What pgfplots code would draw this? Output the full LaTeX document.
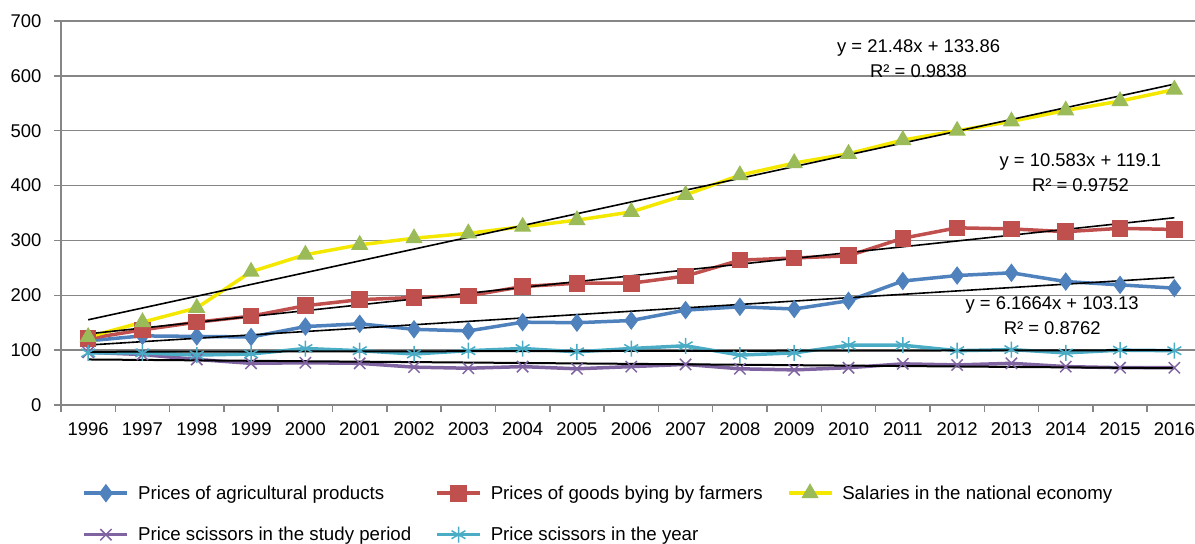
\documentclass[border=0pt]{standalone}
\usepackage{fontspec}
\setmainfont{Liberation Sans}
\usepackage{pgfplots}
\usepackage{pgfplotstable}
\pgfplotsset{compat=1.18}

\definecolor{cblue}{RGB}{79,129,189}
\definecolor{cred}{RGB}{192,80,77}
\definecolor{cyellow}{RGB}{245,232,0}
\definecolor{cgreen}{RGB}{155,187,89}
\definecolor{cpurple}{RGB}{128,100,162}
\definecolor{ccyan}{RGB}{75,172,198}
\definecolor{cgrid}{RGB}{134,134,134}

\pgfplotstableread{
i agr goods sal sp sy
0 117 121 124 96 95
1 126 137 151 92 95
2 125 151 177 83 91
3 124 162 243 76 93
4 143 181 274 77 103
5 148 192 292 76 99
6 138 196 304 69 93
7 135 199 313 67 99
8 151 216 325 70 103
9 150 222 337 66 97
10 154 222 352 70 103
11 173 235 383 74 108
12 179 264 419 66 91
13 175 268 441 64 95
14 190 272 458 68 109
15 226 304 483 75 109
16 236 323 500 73 99
17 241 321 517 76 101
18 225 316 537 70 95
19 219 322 554 68 100
20 213 320 575 68 99
}\datatable

\pgfplotstableread{
i agr goods sal sp sy
0 109.30 129.68 155.34 83 97
20 232.62 341.34 584.94 67 100
}\trendtable

\newcommand{\chfont}{\fontsize{18.5}{22}\selectfont}
\newcommand{\lgfont}{\fontsize{18.75}{22}\selectfont}

\begin{document}
\begin{tikzpicture}
\begin{axis}[
  scale only axis, width=1134bp, height=384bp,
  xmin=-0.5, xmax=20.38, ymin=0, ymax=700,
  axis x line*=bottom, axis y line*=left,
  axis line style={cgrid, line width=1.5bp},
  xtick={0,...,20},
  xticklabels={1996,1997,1998,1999,2000,2001,2002,2003,2004,2005,2006,2007,2008,2009,2010,2011,2012,2013,2014,2015,2016},
  minor xtick={-0.5,0.5,...,19.5},
  ytick={0,100,...,700},
  tick align=outside,
  major tick length=7bp, minor tick length=7bp,
  tick style={cgrid, line width=1.5bp},
  major x tick style={draw=none},
  ymajorgrids, grid style={cgrid, line width=1.5bp},
  /pgf/number format/assume math mode=true,
  ticklabel style={font=\chfont},
  xticklabel style={yshift=-7bp},
  yticklabel style={xshift=-9bp},
  legend columns=3,
  legend cell align=left,
  legend style={draw=none, fill=none, font=\lgfont, inner sep=0pt,
    nodes={inner sep=0pt},
    at={(rel axis cs:0,0)}, anchor=north west, xshift=21.5bp, yshift=-79bp,
    /tikz/every odd column/.append style={column sep=9bp},
    /tikz/every even column/.append style={column sep=24bp},
    row sep=25bp},
  legend image code/.code={\draw[mark repeat=2,mark phase=2,#1] plot coordinates {(0bp,0bp)(21.5bp,0bp)(43bp,0bp)};},
]
\coordinate (sw) at (rel axis cs:0,0);
\coordinate (ne) at (rel axis cs:1,1);

\addplot[cblue, line width=3.5bp, mark=diamond*, mark size=8.5bp, mark options={solid, fill=cblue, draw=cblue, line width=1bp}] table[x=i, y=agr] {\datatable};
\addlegendentry{Prices of agricultural products}
\addplot[cred, line width=3.5bp, mark=square*, mark size=7.8bp, mark options={solid, fill=cred, draw=cred, line width=1bp}] table[x=i, y=goods] {\datatable};
\addlegendentry{Prices of goods bying by farmers}
\addplot[cyellow, line width=3.5bp, mark=triangle*, mark size=9bp, mark options={solid, fill=cgreen, draw=cgreen, line width=1bp}] table[x=i, y=sal] {\datatable};
\addlegendentry{Salaries in the national economy}
\addplot[cpurple, line width=3.5bp, mark=x, mark size=8bp, mark options={solid, draw=cpurple, line width=1.5bp}] table[x=i, y=sp] {\datatable};
\addlegendentry{Price scissors in the study period}
\addplot[ccyan, line width=3.5bp, mark=asterisk, mark size=8bp, mark options={solid, draw=ccyan, line width=1.5bp}] table[x=i, y=sy] {\datatable};
\addlegendentry{Price scissors in the year}

\addplot[black, line width=1.6bp, forget plot] table[x=i, y=sal] {\trendtable};
\addplot[black, line width=1.6bp, forget plot] table[x=i, y=goods] {\trendtable};
\addplot[black, line width=1.6bp, forget plot] table[x=i, y=agr] {\trendtable};
\addplot[black, line width=2bp, forget plot] table[x=i, y=sp] {\trendtable};
\addplot[black, line width=2bp, forget plot] table[x=i, y=sy] {\trendtable};

\node[align=center, font=\fontsize{18.5}{25}\selectfont, inner sep=0pt] at (axis cs:15.29,632) {y = 21.48x + 133.86\\R² = 0.9838};
\node[align=center, font=\fontsize{18.5}{25}\selectfont, inner sep=0pt] at (axis cs:18.27,424) {y = 10.583x + 119.1\\R² = 0.9752};
\node[align=center, font=\fontsize{18.5}{25}\selectfont, inner sep=0pt] at (axis cs:17.75,163) {y = 6.1664x + 103.13\\R² = 0.8762};
\end{axis}
\pgfresetboundingbox
\path[use as bounding box] ([shift={(-61bp,-138bp)}]sw) rectangle ([shift={(0bp,21bp)}]ne);
\end{tikzpicture}
\end{document}
